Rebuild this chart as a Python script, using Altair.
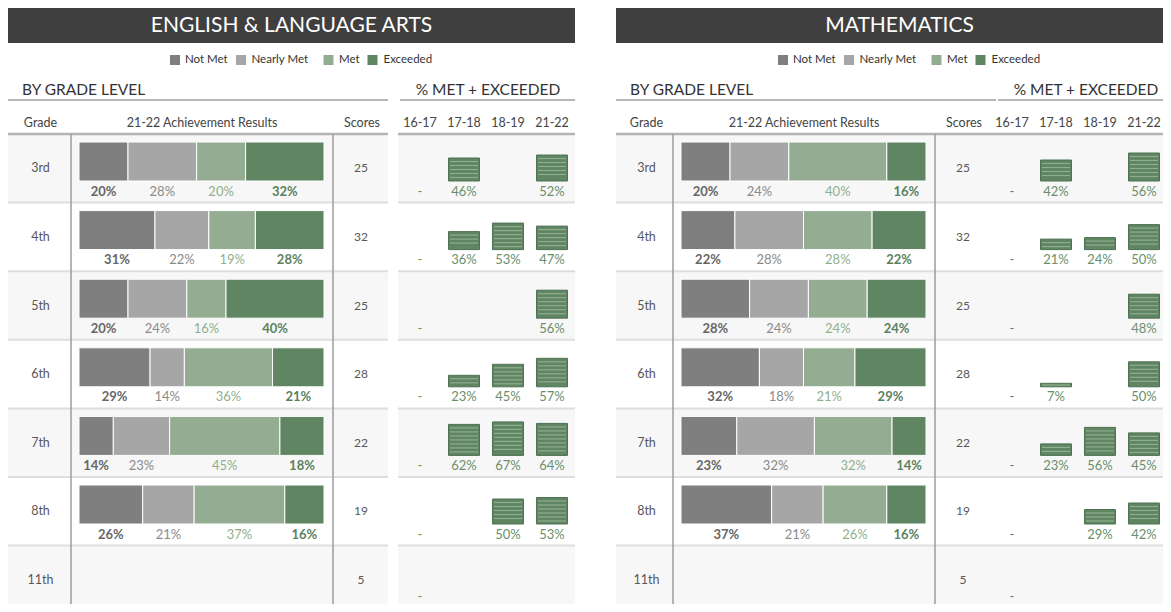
import altair as alt
import pandas as pd

# ---------------- data ----------------
grades = ["3rd", "4th", "5th", "6th", "7th", "8th", "11th"]
levels = ["Not Met", "Nearly Met", "Met", "Exceeded"]
years = ["16-17", "17-18", "18-19", "21-22"]

ela_scores = [25, 32, 25, 28, 22, 19, 5]
ela_not_met = [20, 31, 20, 29, 14, 26, None]
ela_nearly_met = [28, 22, 24, 14, 23, 21, None]
ela_met = [20, 19, 16, 36, 45, 37, None]
ela_exceeded = [32, 28, 40, 21, 18, 16, None]
ela_trend_1617 = [None, None, None, None, None, None, None]
ela_trend_1718 = [46, 36, None, 23, 62, None, None]
ela_trend_1819 = [None, 53, None, 45, 67, 50, None]
ela_trend_2122 = [52, 47, 56, 57, 64, 53, None]

math_scores = [25, 32, 25, 28, 22, 19, 5]
math_not_met = [20, 22, 28, 32, 23, 37, None]
math_nearly_met = [24, 28, 24, 18, 32, 21, None]
math_met = [40, 28, 24, 21, 32, 26, None]
math_exceeded = [16, 22, 24, 29, 14, 16, None]
math_trend_1617 = [None, None, None, None, None, None, None]
math_trend_1718 = [42, 21, None, 7, 23, None, None]
math_trend_1819 = [None, 24, None, None, 56, 29, None]
math_trend_2122 = [56, 50, 48, 50, 45, 42, None]

# ---------------- styles / layout ----------------
LEVEL_FILL = ["#7f7f7f", "#a6a6a6", "#94ad92", "#5f8562"]
LEVEL_TEXT = ["#666666", "#8a8a8a", "#8fb08d", "#5b815e"]
LEVEL_BOLD = [True, False, False, True]
ROW_SHADE = ["#f7f7f7", "#ffffff", "#f7f7f7", "#ffffff", "#f7f7f7", "#ffffff", "#f7f7f7"]

W, H = 1155, 596
OX, OY = 8, 8
ROW_TOP = 134
ROW_H = 68.6
BAR_TOP = 8
BAR_H = 39
LABEL_DY = 30
PX_PER_PCT = 0.5
FONT = "Lato"

XS = alt.Scale(domain=[OX, OX + W], range=[0, W], nice=False, zero=False)
YS = alt.Scale(domain=[OY, OY + H], range=[0, H], nice=False, zero=False)


def row_band():
    r0 = ROW_TOP - OY
    return alt.Scale(domain=grades, range=[r0, r0 + ROW_H * len(grades)],
                     paddingInner=0, paddingOuter=0)


def bar_band():
    p = 1 - BAR_H / ROW_H
    r0 = ROW_TOP - OY + BAR_TOP - (p / 2) * ROW_H
    return alt.Scale(domain=grades, range=[r0, r0 + ROW_H * len(grades)],
                     paddingInner=p, paddingOuter=p / 2)


def rect_layer(df):
    return alt.Chart(df).mark_rect().encode(
        x=alt.X("x:Q", scale=XS, axis=None), x2="x2:Q",
        y=alt.Y("y:Q", scale=YS, axis=None), y2="y2:Q",
        color=alt.Color("fill:N", scale=None),
    )


def rule_layer(df):
    return alt.Chart(df).mark_rule().encode(
        x=alt.X("x:Q", scale=XS, axis=None), x2="x2:Q",
        y=alt.Y("y:Q", scale=YS, axis=None), y2="y2:Q",
        color=alt.Color("stroke:N", scale=None),
        strokeWidth=alt.StrokeWidth("w:Q", scale=None),
    )


def text_layers(rows):
    df = pd.DataFrame(rows)
    out = []
    for (align, weight), sub in df.groupby(["align", "weight"]):
        out.append(alt.Chart(sub.drop(columns=["align", "weight"])).mark_text(
            align=align, baseline="middle", fontWeight=weight, font=FONT).encode(
            x=alt.X("x:Q", scale=XS, axis=None),
            y=alt.Y("y:Q", scale=YS, axis=None),
            text="text:N",
            color=alt.Color("color:N", scale=None),
            size=alt.Size("size:Q", scale=None),
        ))
    return out


def stripe_values(v):
    h = v * PX_PER_PCT
    out = []
    off = 3.5
    while off < h - 2.5:
        out.append(v - off / PX_PER_PCT)
        off += 4.0
    if not out and h > 2:
        out.append(v / 2)
    return out


def subject(title, achievement, scores, trend, hoff, toff, goff, roff, dash_color):
    layers = []
    # ----- layout decorations -----
    rects = [dict(x=8 + hoff, x2=575 + hoff, y=8, y2=43, fill="#3f3f3f")]
    sq_x = [170, 236, 323.5, 367.5]
    for i, lv in enumerate(levels):
        rects.append(dict(x=sq_x[i] + hoff, x2=sq_x[i] + 10 + hoff, y=55, y2=65, fill=LEVEL_FILL[i]))
    layers.append(rect_layer(pd.DataFrame(rects)))

    # row backgrounds
    gdf = pd.DataFrame({"grade": grades, "score": [str(s) for s in scores], "shade": ROW_SHADE})
    for xa, xb in [(8 + hoff, 388 + toff), (398 + roff, 575 + toff)]:
        layers.append(alt.Chart(gdf).mark_rect().encode(
            y=alt.Y("grade:N", scale=row_band(), axis=None),
            x=alt.value(xa - OX), x2=alt.value(xb - OX),
            color=alt.Color("shade:N", scale=None)))
        layers.append(alt.Chart(gdf.iloc[1:]).mark_rule(color="#dedede", strokeWidth=2).encode(
            y=alt.Y("grade:N", scale=row_band(), axis=None, bandPosition=0),
            x=alt.value(xa - OX), x2=alt.value(xb - OX)))

    rules = [
        dict(x=8 + hoff, x2=388 + hoff, y=100, y2=100, stroke="#9f9f9f", w=1.5),
        dict(x=400 + roff + (hoff - toff), x2=575 + hoff, y=100, y2=100, stroke="#9f9f9f", w=1.5),
        dict(x=8 + hoff, x2=388 + toff, y=134, y2=134, stroke="#b5b5b5", w=2.5),
        dict(x=398 + roff, x2=575 + toff, y=134, y2=134, stroke="#b5b5b5", w=2.5),
        dict(x=71 + toff, x2=71 + toff, y=134, y2=612, stroke="#9c9c9c", w=1.5),
        dict(x=333 + toff, x2=333 + toff, y=134, y2=612, stroke="#9c9c9c", w=1.5),
    ]
    layers.append(rule_layer(pd.DataFrame(rules)))

    # ----- stacked achievement bars -----
    rows = []
    for li, vals in enumerate(achievement):
        for g, v in zip(grades, vals):
            if v is not None:
                rows.append(dict(grade=g, idx=li, pct=v, fill=LEVEL_FILL[li],
                                 lab=LEVEL_TEXT[li], text=f"{v}%", bold=LEVEL_BOLD[li]))
    adf = pd.DataFrame(rows)
    xs_bar = alt.Scale(domain=[0, 1], range=[79 + toff - OX, 324 + toff - OX], nice=False, zero=False)
    base = alt.Chart(adf).transform_stack(
        stack="pct", groupby=["grade"], as_=["s0", "s1"],
        sort=[alt.SortField("idx", order="ascending")], offset="normalize",
    ).transform_calculate(mid="(datum.s0 + datum.s1) / 2")
    layers.append(base.mark_rect(stroke="white", strokeWidth=1).encode(
        x=alt.X("s0:Q", scale=xs_bar, axis=None), x2="s1:Q",
        y=alt.Y("grade:N", scale=bar_band(), axis=None),
        color=alt.Color("fill:N", scale=None)))
    for flag, weight in [(True, "bold"), (False, "normal")]:
        layers.append(base.transform_filter(f"datum.bold == {str(flag).lower()}").mark_text(
            font=FONT, fontSize=13, fontWeight=weight, baseline="middle", dy=LABEL_DY).encode(
            x=alt.X("mid:Q", scale=xs_bar, axis=None),
            y=alt.Y("grade:N", scale=bar_band(), axis=None),
            text="text:N",
            color=alt.Color("lab:N", scale=None)))

    # grade labels & scores
    layers.append(alt.Chart(gdf).mark_text(font=FONT, fontSize=12.5, color="#575757", baseline="middle").encode(
        y=alt.Y("grade:N", scale=row_band(), axis=None), x=alt.value(40.5 + goff - OX), text="grade:N"))
    layers.append(alt.Chart(gdf).mark_text(font=FONT, fontSize=12, color="#575757", baseline="middle").encode(
        y=alt.Y("grade:N", scale=row_band(), axis=None), x=alt.value(361 + toff - OX), text="score:N"))

    # ----- % met + exceeded mini bars -----
    xs_mini = alt.Scale(domain=years, range=[398 + roff - OX, 574 + roff - OX],
                        paddingInner=0.295, paddingOuter=0.1475)
    trows, srows = [], []
    for yr, vals in zip(years, trend):
        for gi, (g, v) in enumerate(zip(grades, vals)):
            if v is None:
                if yr == years[0]:
                    trows.append(dict(grade=g, gi=gi, year=yr, v=None, zero=0, text="-", color=dash_color))
                continue
            trows.append(dict(grade=g, gi=gi, year=yr, v=v, zero=0, text=f"{v}%", color="#6a8f6c"))
            for sv in stripe_values(v):
                srows.append(dict(grade=g, gi=gi, year=yr, sv=sv))
    tdf = pd.DataFrame(trows)
    sdf = pd.DataFrame(srows)
    for gi, g in enumerate(grades):
        sub = tdf[(tdf["gi"] == gi) & tdf["v"].notna()]
        if len(sub) == 0:
            continue
        base_px = ROW_TOP + gi * ROW_H + BAR_TOP + BAR_H - OY
        ys = alt.Scale(domain=[0, 100], range=[base_px, base_px - 100 * PX_PER_PCT], nice=False, zero=False)
        layers.append(alt.Chart(sub.drop(columns=["text", "color"])).mark_rect(
            color="#5f8563", stroke="#4e7252", strokeWidth=1).encode(
            x=alt.X("year:N", scale=xs_mini, axis=None),
            y=alt.Y("v:Q", scale=ys, axis=None), y2="zero:Q"))
        ssub = sdf[sdf["gi"] == gi]
        if len(ssub):
            layers.append(alt.Chart(ssub).mark_tick(color="#a6bda4", size=28, thickness=1.2).encode(
                x=alt.X("year:N", scale=xs_mini, axis=None),
                y=alt.Y("sv:Q", scale=ys, axis=None)))
    tl = tdf.drop(columns=["v"])
    last = grades[-1]
    for sub, dy in [(tl[tl["grade"] != last], LABEL_DY), (tl[tl["grade"] == last], 24)]:
        layers.append(alt.Chart(sub).mark_text(
            font=FONT, fontSize=13, baseline="middle", dy=dy).encode(
            x=alt.X("year:N", scale=xs_mini, axis=None),
            y=alt.Y("grade:N", scale=bar_band(), axis=None),
            text="text:N",
            color=alt.Color("color:N", scale=None)))

    # ----- header texts -----
    leg_tx = [185, 251.5, 339, 383.5]
    texts = [
        dict(x=291.5 + hoff, y=26, text=title, color="#ffffff", size=21, align="center", weight="normal"),
        dict(x=22 + hoff, y=90, text="BY GRADE LEVEL", color="#333333", size=15.5, align="left", weight="normal"),
        dict(x=488 + roff + (hoff - toff), y=90, text="% MET + EXCEEDED", color="#333333", size=15.5, align="center", weight="normal"),
        dict(x=40.5 + goff, y=123, text="Grade", color="#444444", size=12.5, align="center", weight="normal"),
        dict(x=202 + toff, y=123, text="21-22 Achievement Results", color="#444444", size=12.5, align="center", weight="normal"),
        dict(x=362 + toff, y=123, text="Scores", color="#444444", size=12.5, align="center", weight="normal"),
    ]
    for i, lv in enumerate(levels):
        texts.append(dict(x=leg_tx[i] + hoff, y=60, text=lv, color="#333333", size=11.5, align="left", weight="normal"))
    layers += text_layers(texts)
    layers.append(alt.Chart(pd.DataFrame({"year": years})).mark_text(
        font=FONT, fontSize=12.5, color="#444444", baseline="middle").encode(
        x=alt.X("year:N", scale=xs_mini, axis=None),
        y=alt.value(123 - OY), text="year:N"))
    return layers


layers = []
layers += subject("ENGLISH & LANGUAGE ARTS",
                  [ela_not_met, ela_nearly_met, ela_met, ela_exceeded], ela_scores,
                  [ela_trend_1617, ela_trend_1718, ela_trend_1819, ela_trend_2122],
                  hoff=0, toff=0, goff=0, roff=0, dash_color="#8a8a5c")
layers += subject("MATHEMATICS",
                  [math_not_met, math_nearly_met, math_met, math_exceeded], math_scores,
                  [math_trend_1617, math_trend_1718, math_trend_1819, math_trend_2122],
                  hoff=608, toff=602, goff=606, roff=592, dash_color="#5f7d88")

chart = alt.layer(*layers).resolve_scale(
    x="independent", y="independent"
).properties(
    width=W, height=H, padding=0, background="white",
    autosize=alt.AutoSizeParams(type="none"),
).configure_view(stroke=None)

chart.save("out.html", embed_options={"renderer": "svg", "actions": False})
